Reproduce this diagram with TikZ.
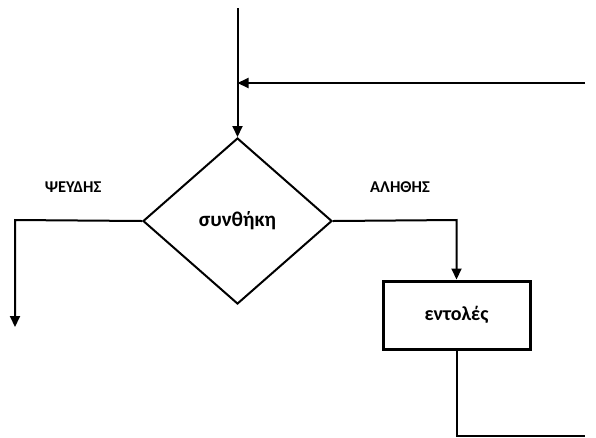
\documentclass[tikz,border=0pt]{standalone}
\usepackage{fontspec}
\setmainfont{Carlito}
\usetikzlibrary{arrows.meta,shapes.geometric}
\begin{document}
\begin{tikzpicture}[x=1pt,y=-1pt,
  flow/.style={line width=2pt,-{Triangle[length=11pt,width=10pt]}},
  wire/.style={line width=2pt},
  label/.style={font=\fontsize{16.5}{19}\selectfont\bfseries},
  every node/.style={inner sep=0pt}]
\useasboundingbox (0,0) rectangle (596,437);
% decision
\node[diamond,draw,line width=2pt,minimum width=189pt,minimum height=166pt,aspect=1.1386,
      font=\fontsize{21}{25}\selectfont\bfseries] (cond) at (237.5,221) {συνθήκη};
% process box
\node[draw,line width=3pt,minimum width=147pt,minimum height=68pt,
      font=\fontsize{20}{24}\selectfont\bfseries] (cmd) at (456.5,315) {εντολές};
% labels
\node[label] (f) at (73,187) {ΨΕΥΔΗΣ};
\node[label] (t) at (400,187) {ΑΛΗΘΗΣ};
% free ends
\coordinate (top) at (237.5,8);
\coordinate (loopin) at (585,83);
\coordinate (join) at (237.5,83);
\coordinate (fcorner) at (15,220);
\coordinate (fend) at (15,327);
\coordinate (tcorner) at (456.5,220);
\coordinate (bcorner) at (456.5,436);
\coordinate (bend) at (585,436);
% connectors
\draw[flow] (top) -- (cond.north);
\draw[flow] (loopin) -- (join);
\draw[flow] (cond.west) -- (fcorner) -- (fend);
\draw[flow] (cond.east) -- (tcorner) -- (cmd.north);
\draw[wire] (cmd.south) -- (bcorner) -- (bend);
\end{tikzpicture}
\end{document}
